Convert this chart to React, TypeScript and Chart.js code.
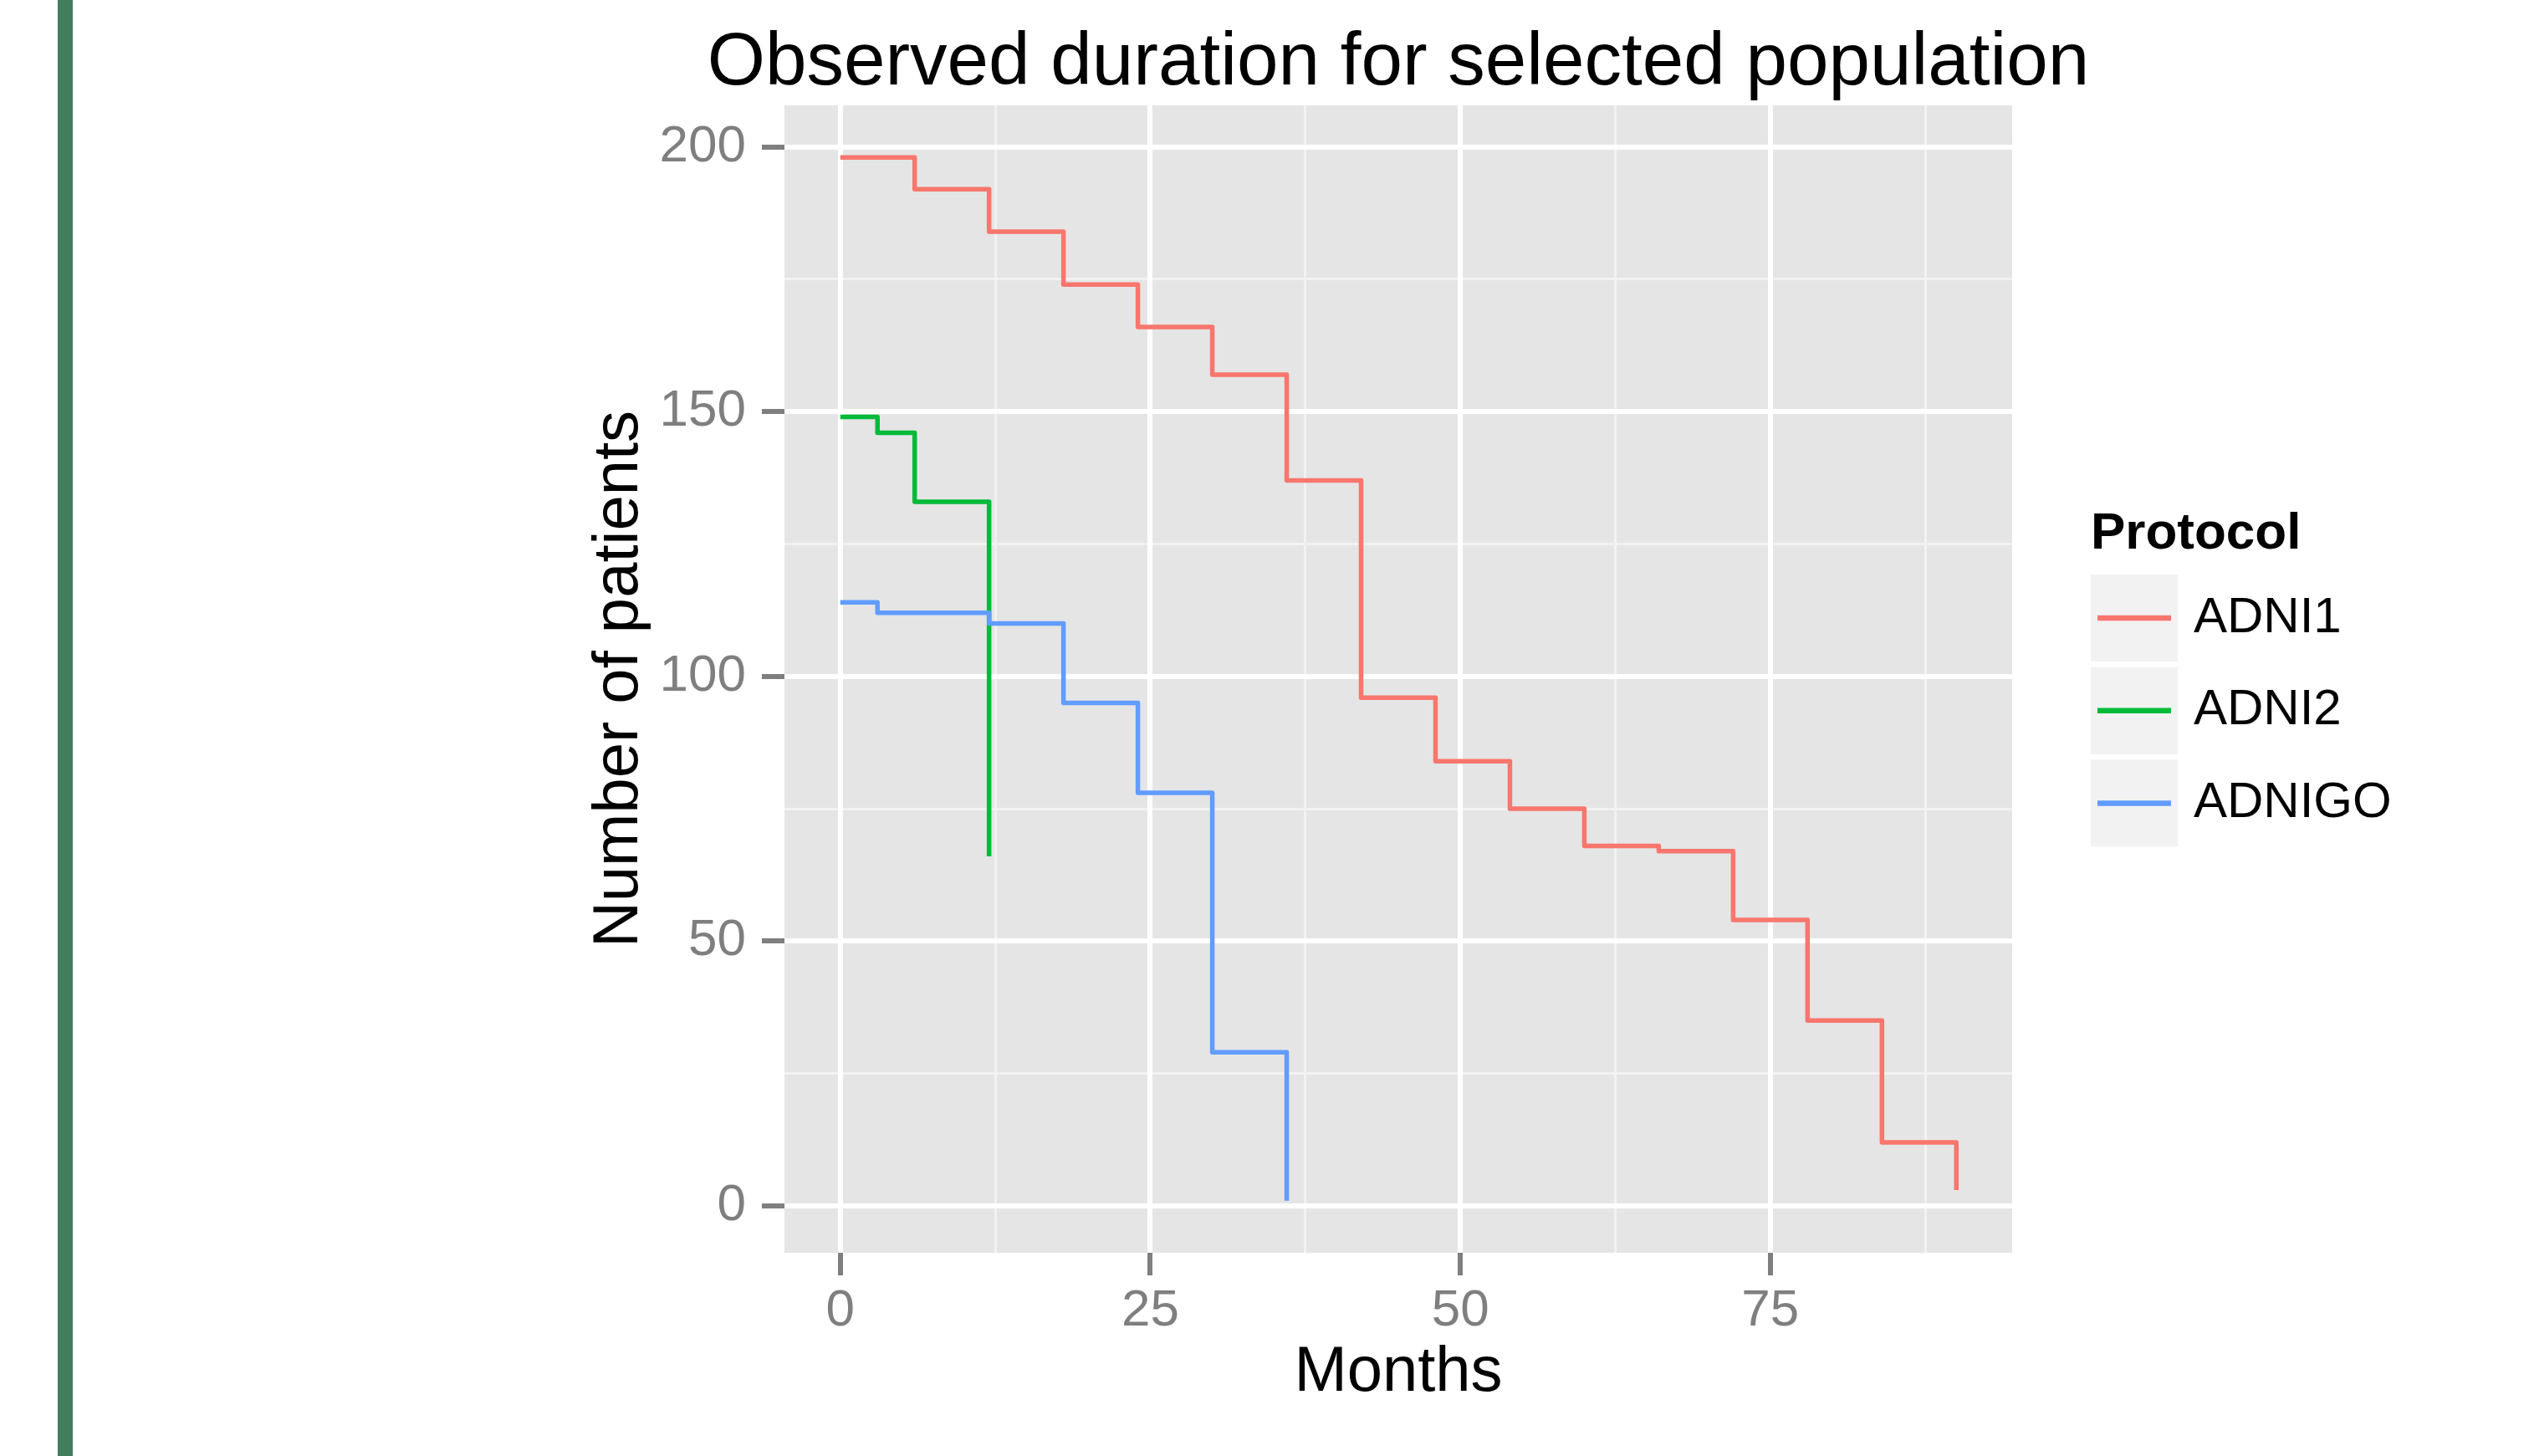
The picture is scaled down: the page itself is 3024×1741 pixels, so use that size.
import React, { useEffect, useRef } from 'react';
import { Chart, registerables } from 'chart.js';

Chart.register(...registerables);

const FONT = '"Liberation Sans", Arial, Helvetica, sans-serif';

const TITLE = 'Observed duration for selected population';
const X_TITLE = 'Months';
const Y_TITLE = 'Number of patients';
const LEGEND_TITLE = 'Protocol';

const SERIES = ['ADNI1', 'ADNI2', 'ADNIGO'];
const COLORS = ['#F8766D', '#00BA38', '#619CFF'];

const ADNI1_MONTHS = [0, 6, 12, 18, 24, 30, 36, 42, 48, 54, 60, 66, 72, 78, 84, 90];
const ADNI1_PATIENTS = [198, 192, 184, 174, 166, 157, 137, 96, 84, 75, 68, 67, 54, 35, 12, 3];

const ADNI2_MONTHS = [0, 3, 6, 12];
const ADNI2_PATIENTS = [149, 146, 133, 66];

const ADNIGO_MONTHS = [0, 3, 12, 18, 24, 30, 36];
const ADNIGO_PATIENTS = [114, 112, 110, 95, 78, 29, 1];

const X_TICKS = [0, 25, 50, 75];
const X_MINOR_TICKS = [12.5, 37.5, 62.5, 87.5];
const Y_TICKS = [0, 50, 100, 150, 200];
const Y_MINOR_TICKS = [25, 75, 125, 175];

type Pt = { x: number; y: number };
const toPoints = (xs: number[], ys: number[]): Pt[] => xs.map((x, i) => ({ x, y: ys[i] }));

// continuous-scale limits padded by 5% of the data range on each side
const expandRange = (values: number[]) => {
  const lo = Math.min(...values);
  const hi = Math.max(...values);
  const pad = (hi - lo) * 0.05;
  return { min: lo - pad, max: hi + pad };
};

const xRange = expandRange([...ADNI1_MONTHS, ...ADNI2_MONTHS, ...ADNIGO_MONTHS]);
const yRange = expandRange([...ADNI1_PATIENTS, ...ADNI2_PATIENTS, ...ADNIGO_PATIENTS]);

const PANEL_BG = '#E5E5E5';
const GRID_MAJOR = '#FFFFFF';
const GRID_MINOR = '#F2F2F2';
const AXIS_GREY = '#7F7F7F';

const panelBackground = {
  id: 'panelBackground',
  beforeDraw(chart: any) {
    const { ctx, chartArea } = chart;
    ctx.save();
    ctx.fillStyle = PANEL_BG;
    ctx.fillRect(chartArea.left, chartArea.top, chartArea.right - chartArea.left, chartArea.bottom - chartArea.top);
    ctx.restore();
  },
};

// plot title centred over the panel, at its natural width
const panelTitle = {
  id: 'panelTitle',
  afterDraw(chart: any) {
    const { ctx, chartArea } = chart;
    ctx.save();
    ctx.fillStyle = '#000';
    ctx.font = `89px ${FONT}`;
    ctx.textAlign = 'center';
    ctx.textBaseline = 'middle';
    ctx.fillText(TITLE, (chartArea.left + chartArea.right) / 2, 76);
    ctx.restore();
  },
};

const protocolLegend = {
  id: 'protocolLegend',
  afterDraw(chart: any) {
    const { ctx, chartArea } = chart;
    const left = chartArea.right + 94;
    const keySize = 104;
    const keyStep = 110.7;
    const firstKeyTop = 687;
    ctx.save();
    ctx.fillStyle = '#000';
    ctx.textAlign = 'left';
    ctx.textBaseline = 'alphabetic';
    ctx.font = `bold 62px ${FONT}`;
    ctx.fillText(LEGEND_TITLE, left, 656);
    chart.data.datasets.forEach((ds: any, i: number) => {
      const top = firstKeyTop + i * keyStep;
      const cy = top + keySize / 2;
      ctx.fillStyle = '#F2F2F2';
      ctx.fillRect(left, top, keySize, keySize);
      ctx.strokeStyle = ds.borderColor;
      ctx.lineWidth = 6.5;
      ctx.lineCap = 'butt';
      ctx.beginPath();
      ctx.moveTo(left + 8, cy);
      ctx.lineTo(left + keySize - 8, cy);
      ctx.stroke();
      ctx.fillStyle = '#000';
      ctx.font = `60px ${FONT}`;
      ctx.textBaseline = 'middle';
      ctx.fillText(ds.label, left + 123, cy);
      ctx.textBaseline = 'alphabetic';
    });
    ctx.restore();
  },
};

const stepLine = (i: number, xs: number[], ys: number[], order: number) => ({
  label: SERIES[i],
  data: toPoints(xs, ys),
  borderColor: COLORS[i],
  backgroundColor: COLORS[i],
  borderWidth: 5.5,
  stepped: 'before' as const,
  pointRadius: 0,
  pointHoverRadius: 0,
  fill: false,
  order,
  borderJoinStyle: 'round' as const,
  borderCapStyle: 'butt' as const,
});

export default function App() {
  const canvasRef = useRef<HTMLCanvasElement | null>(null);

  useEffect(() => {
    const canvas = canvasRef.current;
    if (!canvas) return;
    const chart = new Chart(canvas, {
      type: 'line',
      data: {
        datasets: [
          stepLine(0, ADNI1_MONTHS, ADNI1_PATIENTS, 3),
          stepLine(1, ADNI2_MONTHS, ADNI2_PATIENTS, 2),
          stepLine(2, ADNIGO_MONTHS, ADNIGO_PATIENTS, 1),
        ],
      },
      options: {
        responsive: false,
        animation: false,
        devicePixelRatio: 1,
        events: [],
        layout: { padding: { left: 0, right: 618, top: 126, bottom: 0 } },
        plugins: {
          legend: { display: false },
          tooltip: { enabled: false },
          title: { display: false },
        },
        scales: {
          x: {
            type: 'linear',
            position: 'bottom',
            min: xRange.min,
            max: xRange.max,
            afterBuildTicks: (s: any) => {
              s.ticks = X_TICKS.map((v) => ({ value: v }));
            },
            afterFit: (s: any) => {
              s.height = 243;
            },
            grid: {
              color: GRID_MAJOR,
              lineWidth: 6,
              drawTicks: true,
              tickLength: 27,
              tickColor: AXIS_GREY,
              tickWidth: 6,
              z: -1,
            },
            border: { display: false },
            ticks: {
              color: AXIS_GREY,
              font: { family: FONT, size: 62 },
              padding: 6,
              autoSkip: false,
              maxRotation: 0,
            },
            title: {
              display: true,
              text: X_TITLE,
              color: '#000',
              font: { family: FONT, size: 76 },
              padding: { top: 0, bottom: 53 },
            },
          },
          x2: {
            type: 'linear',
            position: 'bottom',
            min: xRange.min,
            max: xRange.max,
            afterBuildTicks: (s: any) => {
              s.ticks = X_MINOR_TICKS.map((v) => ({ value: v }));
            },
            afterFit: (s: any) => {
              s.height = 0;
            },
            grid: { color: GRID_MINOR, lineWidth: 3, drawTicks: false, z: -2 },
            border: { display: false },
            ticks: { display: false },
          },
          y: {
            type: 'linear',
            position: 'left',
            min: yRange.min,
            max: yRange.max,
            afterBuildTicks: (s: any) => {
              s.ticks = Y_TICKS.map((v) => ({ value: v }));
            },
            afterFit: (s: any) => {
              s.width = 938;
            },
            grid: {
              color: GRID_MAJOR,
              lineWidth: 6,
              drawTicks: true,
              tickLength: 27,
              tickColor: AXIS_GREY,
              tickWidth: 6,
              z: -1,
            },
            border: { display: false },
            ticks: {
              color: AXIS_GREY,
              font: { family: FONT, size: 62 },
              padding: 19,
              autoSkip: false,
            },
            title: {
              display: true,
              text: Y_TITLE,
              color: '#000',
              font: { family: FONT, size: 76 },
              padding: { top: 695, bottom: 0 },
            },
          },
          y2: {
            type: 'linear',
            position: 'left',
            min: yRange.min,
            max: yRange.max,
            afterBuildTicks: (s: any) => {
              s.ticks = Y_MINOR_TICKS.map((v) => ({ value: v }));
            },
            afterFit: (s: any) => {
              s.width = 0;
            },
            grid: { color: GRID_MINOR, lineWidth: 3, drawTicks: false, z: -2 },
            border: { display: false },
            ticks: { display: false },
          },
        },
      },
      plugins: [panelBackground, panelTitle, protocolLegend],
    } as any);
    return () => chart.destroy();
  }, []);

  return (
    <div style={{ position: 'fixed', left: 0, top: 0, width: 3024, height: 1741, background: '#FFFFFF', overflow: 'hidden' }}>
      <div style={{ position: 'absolute', left: 69, top: 0, width: 18, height: 1741, background: '#427D5C' }} />
      <canvas ref={canvasRef} width={3024} height={1741} style={{ position: 'absolute', left: 0, top: 0, width: 3024, height: 1741 }} />
    </div>
  );
}
